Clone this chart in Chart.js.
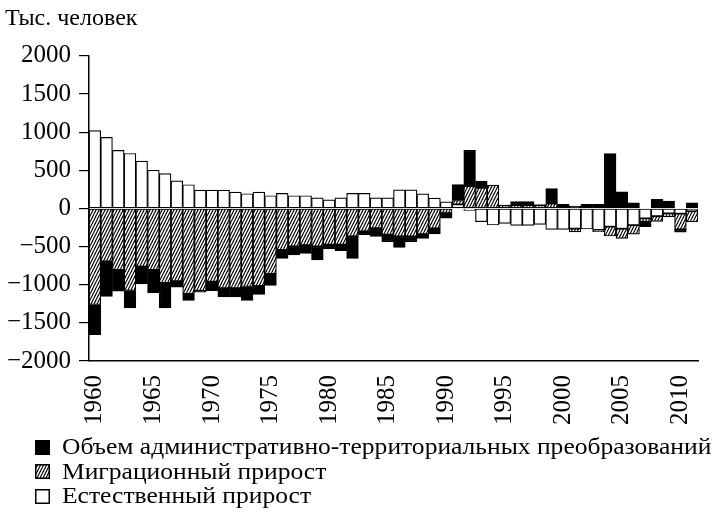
<!DOCTYPE html>
<html lang="ru">
<head>
<meta charset="utf-8">
<script src="https://cdn.jsdelivr.net/npm/chart.js@4.4.1/dist/chart.umd.min.js"></script>
<style>
  html, body { margin: 0; padding: 0; background: #fff; }
  #wrap { position: relative; width: 715px; height: 513px; }
  #legend { position: absolute; left: 35px; top: 435px; font: 23px 'Liberation Serif', serif; color: #000; }
  .item { display: flex; align-items: center; height: 24.5px; white-space: nowrap; }
  .item canvas { width: 15px; height: 15px; margin-right: 12px; flex: none; }
  .item span { display: inline-block; transform: scaleX(1.11); transform-origin: left center; }
</style>
</head>
<body>
<div id="wrap">
  <canvas id="chart" width="715" height="513"></canvas>
  <div id="legend"></div>
</div>
<script>
// Тыс. человек, 1960-2011
const years = [
  '1960', '1961', '1962', '1963', '1964', '1965', '1966', '1967', '1968', '1969',
  '1970', '1971', '1972', '1973', '1974', '1975', '1976', '1977', '1978', '1979',
  '1980', '1981', '1982', '1983', '1984', '1985', '1986', '1987', '1988', '1989',
  '1990', '1991', '1992', '1993', '1994', '1995', '1996', '1997', '1998', '1999',
  '2000', '2001', '2002', '2003', '2004', '2005', '2006', '2007', '2008', '2009',
  '2010', '2011'
]

// Естественный прирост
const natural = [
  1020, 930, 760, 720, 620, 500, 455, 360, 310, 240,
  240, 240, 213, 192, 213, 166, 196, 166, 166, 139,
  113, 139, 196, 196, 139, 139, 244, 244, 190, 135,
  87, 52, -26, -174, -218, -196, -222, -222, -209, -274,
  -274, -265, -270, -283, -240, -266, -218, -130, -100, -65,
  -70, -35
]

// Миграционный прирост
const migration = [
  -1260, -693, -806, -1076, -763, -806, -976, -954, -1120, -1081,
  -959, -1046, -1046, -1024, -1015, -858, -545, -497, -480, -497,
  -475, -475, -366, -301, -257, -344, -366, -366, -336, -262,
  -63, 52, 292, 270, 305, 44, 44, 44, 40, 61,
  0, -44, 0, -22, -122, -126, -120, -44, -70, -46,
  -205, -140
]

// Объем административно-территориальных преобразований
const admin = [
  -396, -462, -279, -227, -227, -301, -327, -78, -87, -17,
  -118, -113, -113, -183, -113, -153, -109, -113, -110, -179,
  -57, -78, -288, -44, -109, -92, -144, -70, -57, -74,
  -65, 209, 470, 87, 0, 0, 44, 44, 10, 200,
  52, 30, 52, 52, 719, 218, 74, -65, 118, 96,
  -35, 74
]

const yTicks = [-2000, -1500, -1000, -500, 0, 500, 1000, 1500, 2000]

const FONT = "'Liberation Serif', 'Times New Roman', serif"

// diagonal hatch "////"
function makeHatch(ctx) {
  const w = 3, h = 6
  const c = document.createElement('canvas')
  c.width = w
  c.height = h
  const p = c.getContext('2d')
  p.fillStyle = '#fff'
  p.fillRect(0, 0, w, h)
  p.strokeStyle = '#000'
  p.lineWidth = 1.1
  for (let k = 0; k <= 2; k++) {
    p.beginPath()
    p.moveTo(-w, h * (k + 1))
    p.lineTo(2 * w, h * (k - 2))
    p.stroke()
  }
  return ctx.createPattern(c, 'repeat')
}

const canvas = document.getElementById('chart')
const ctx = canvas.getContext('2d')
const hatch = makeHatch(ctx)

const barStyle = {
  borderColor: '#000',
  borderWidth: 1.2,
  borderSkipped: false,
  barPercentage: 1,
  categoryPercentage: 1,
  stack: 'all'
}

const series = [
  { label: 'Объем административно-территориальных преобразований', data: admin, fill: '#000' },
  { label: 'Миграционный прирост', data: migration, fill: hatch },
  { label: 'Естественный прирост', data: natural, fill: '#fff' }
]

new Chart(canvas, {
  type: 'bar',
  data: {
    labels: years,
    // stacking order from zero: natural, migration, admin
    datasets: [series[2], series[1], series[0]].map(s => ({
      ...barStyle,
      label: s.label,
      data: s.data,
      backgroundColor: s.fill
    }))
  },
  options: {
    responsive: false,
    animation: false,
    layout: { padding: { left: 5, right: 17, top: 0, bottom: 0 } },
    plugins: {
      legend: { display: false },
      tooltip: { enabled: false },
      title: {
        display: true,
        text: 'Тыс. человек',
        align: 'start',
        color: '#000',
        font: { family: FONT, size: 24, weight: 'normal' },
        padding: { top: 4, bottom: 23 }
      }
    },
    scales: {
      x: {
        stacked: true,
        offset: true,
        grid: { display: false },
        border: { display: true, color: '#000', width: 1.5 },
        ticks: {
          autoSkip: false,
          minRotation: 90,
          maxRotation: 90,
          padding: 6,
          color: '#000',
          font: { family: FONT, size: 25 },
          callback: (v, i) => (Number(years[i]) % 5 === 0 ? years[i] : '')
        },
        afterFit: s => {
          s.height = 152
          s.paddingLeft = 0
          s.paddingRight = 0
        }
      },
      y: {
        stacked: true,
        min: yTicks[0],
        max: yTicks[yTicks.length - 1],
        afterBuildTicks: s => { s.ticks = yTicks.map(v => ({ value: v })) },
        grid: { drawOnChartArea: false, drawTicks: true, tickLength: 10, color: '#000', lineWidth: 1.2 },
        border: { display: true, color: '#000', width: 1.5 },
        ticks: {
          padding: 8,
          color: '#000',
          font: { family: FONT, size: 25 },
          callback: v => (v < 0 ? '\u2212' + Math.abs(v) : String(v))
        },
        afterFit: s => { s.width = 84 }
      }
    }
  }
})

// legend, one item per row
const legend = document.getElementById('legend')
series.forEach(s => {
  const row = document.createElement('div')
  row.className = 'item'
  const sw = document.createElement('canvas')
  sw.width = 15
  sw.height = 15
  const sc = sw.getContext('2d')
  sc.fillStyle = s.fill === hatch ? makeHatch(sc) : s.fill
  sc.fillRect(0, 0, 15, 15)
  sc.strokeStyle = '#000'
  sc.lineWidth = 1.5
  sc.strokeRect(0.75, 0.75, 13.5, 13.5)
  row.appendChild(sw)
  const t = document.createElement('span')
  t.textContent = s.label
  row.appendChild(t)
  legend.appendChild(row)
})
</script>
</body>
</html>
